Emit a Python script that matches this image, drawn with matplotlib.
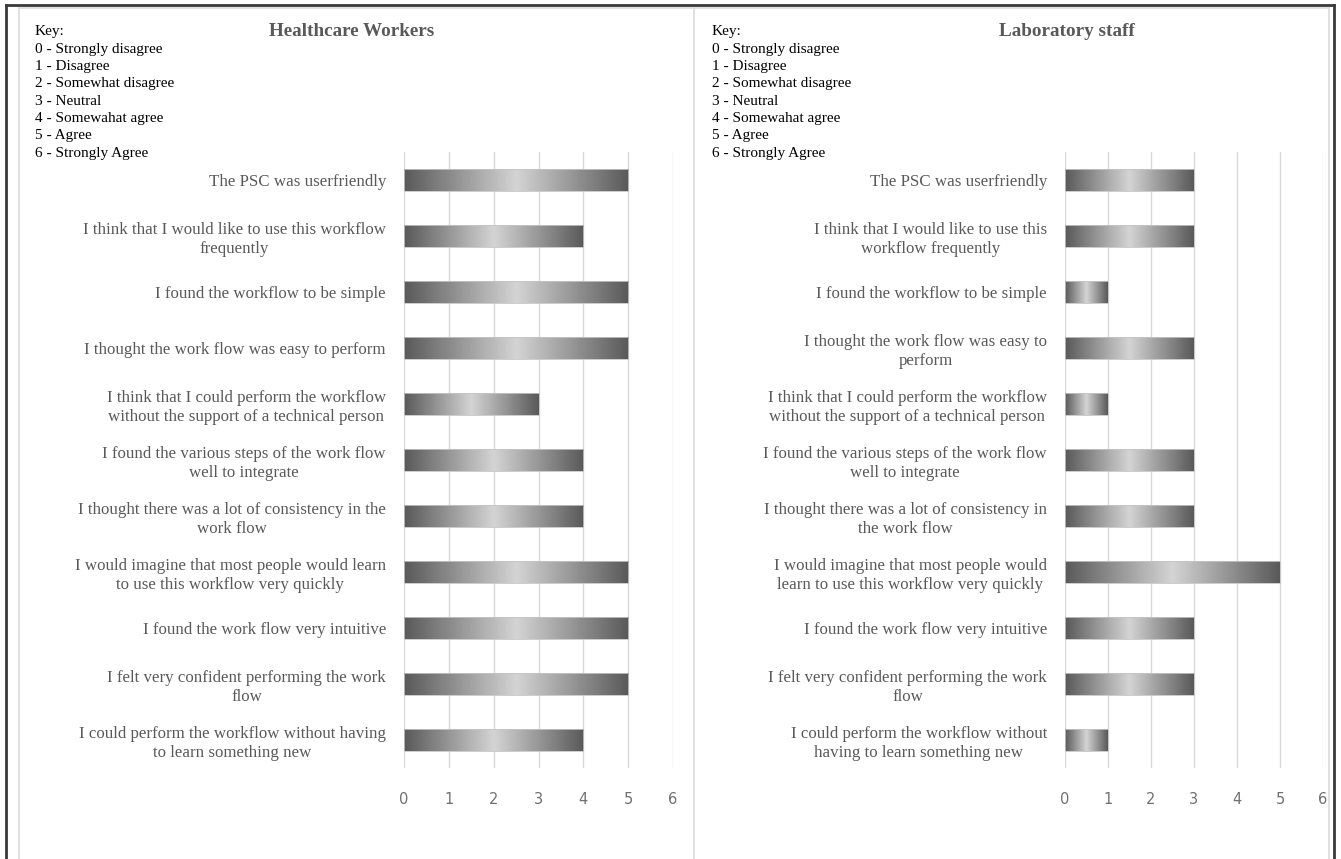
import numpy as np
import matplotlib.pyplot as plt
from matplotlib.lines import Line2D

W, H = 1341, 859

key_lines = ['Key:', '0 - Strongly disagree', '1 - Disagree', '2 - Somewhat disagree',
             '3 - Neutral', '4 - Somewahat agree', '5 - Agree', '6 - Strongly Agree']

hcw_labels = [
    'The PSC was userfriendly',
    'I think that I would like to use this workflow\nfrequently',
    'I found the workflow to be simple',
    'I thought the work flow was easy to perform',
    'I think that I could perform the workflow\nwithout the support of a technical person',
    'I found the various steps of the work flow\nwell to integrate',
    'I thought there was a lot of consistency in the\nwork flow',
    'I would imagine that most people would learn\nto use this workflow very quickly',
    'I found the work flow very intuitive',
    'I felt very confident performing the work\nflow',
    'I could perform the workflow without having\nto learn something new',
]
hcw_scores = [5, 4, 5, 5, 3, 4, 4, 5, 5, 5, 4]

lab_labels = [
    'The PSC was userfriendly',
    'I think that I would like to use this\nworkflow frequently',
    'I found the workflow to be simple',
    'I thought the work flow was easy to\nperform',
    'I think that I could perform the workflow\nwithout the support of a technical person',
    'I found the various steps of the work flow\nwell to integrate',
    'I thought there was a lot of consistency in\nthe work flow',
    'I would imagine that most people would\nlearn to use this workflow very quickly',
    'I found the work flow very intuitive',
    'I felt very confident performing the work\nflow',
    'I could perform the workflow without\nhaving to learn something new',
]
lab_scores = [3, 3, 1, 3, 1, 3, 3, 5, 3, 3, 1]

scale_ticks = [0, 1, 2, 3, 4, 5, 6]

serif = 'Liberation Serif'
txt_grey = '#595959'

# dark - light - dark shading across each bar
t = np.linspace(0, 1, 256)
shade = 0.35 + 0.48 * (1 - np.abs(2 * t - 1))
grad = shade[np.newaxis, :]


def fx(x):
    return x / W


def fy(y):
    return 1 - y / H


fig = plt.figure(figsize=(W / 100, H / 100), dpi=100)


def panel(x0, x1, labels, scores, title, title_x, key_x):
    ax = fig.add_axes([fx(x0), fy(768), fx(x1 - x0), 616 / H])
    ypos = np.arange(len(scores))
    bars = ax.barh(ypos, scores, height=0.39, facecolor='none',
                   edgecolor='#c4c4c4', lw=0.6, zorder=3)
    for b, v, y in zip(bars, scores, ypos):
        h = b.get_height()
        im = ax.imshow(grad, extent=[0, v, y - h / 2, y + h / 2], aspect='auto',
                       cmap='gray', vmin=0, vmax=1, interpolation='bilinear', zorder=2)
        im.set_clip_path(b)
    ax.set_xlim(0, 6)
    ax.set_ylim(len(scores) - 0.5, -0.5)
    ax.set_xticks(scale_ticks)
    ax.set_xticklabels([str(v) for v in scale_ticks], fontfamily='DejaVu Sans',
                       fontsize=10.5, color='#707070')
    ax.set_yticks(ypos)
    ax.set_yticklabels(labels, fontfamily=serif, fontsize=12.2, color=txt_grey,
                       multialignment='center', linespacing=1.25)
    ax.tick_params(axis='both', length=0)
    ax.tick_params(axis='x', pad=17)
    ax.tick_params(axis='y', pad=13)
    ax.grid(axis='x', color='#d9d9d9', lw=1)
    ax.set_axisbelow(True)
    for s in ax.spines.values():
        s.set_visible(False)

    fig.text(fx(title_x), fy(32), title, ha='center', va='center', fontfamily=serif,
             fontsize=13.8, fontweight='bold', color=txt_grey)
    for i, line in enumerate(key_lines):
        fig.text(fx(key_x), fy(32 + 17.3 * i), line, ha='left', va='center',
                 fontfamily=serif, fontsize=11, color='black')
    return ax


panel(404, 673, hcw_labels, hcw_scores, 'Healthcare Workers', 352, 35)
panel(1065, 1323, lab_labels, lab_scores, 'Laboratory staff', 1067, 712)

# panel borders and outer frame
for x in (19, 694, 1329):
    fig.add_artist(Line2D([fx(x), fx(x)], [fy(8), 0], color='#dcdcdc', lw=1.2))
fig.add_artist(Line2D([fx(19), fx(1329)], [fy(8), fy(8)], color='#dcdcdc', lw=1.2))
fig.add_artist(Line2D([fx(6), fx(6)], [fy(5), 0], color='#3a3a3a', lw=2))
fig.add_artist(Line2D([fx(1334), fx(1334)], [fy(5), 0], color='#3a3a3a', lw=2))
fig.add_artist(Line2D([fx(6), fx(1334)], [fy(5), fy(5)], color='#3a3a3a', lw=2))

fig.savefig('out.png', dpi=100, facecolor='white')
